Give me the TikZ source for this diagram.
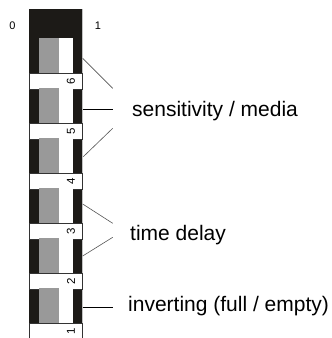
\documentclass[tikz,border=0pt]{standalone}
\usepackage{fontspec}
\setmainfont{Liberation Sans}
\definecolor{bodyblack}{HTML}{1C1A17}
\definecolor{slidegray}{HTML}{999999}
\definecolor{barline}{HTML}{333333}
\definecolor{leadgray}{HTML}{555555}
\begin{document}
\begin{tikzpicture}[x=1pt,y=-1pt,
  body/.style={fill=bodyblack},
  slidedark/.style={fill=slidegray},
  slidelight/.style={fill=white},
  barbox/.style={draw=barline,fill=white,line width=0.8pt,rectangle,
    minimum width=53pt,minimum height=16pt,inner sep=0pt},
  digit/.style={font=\fontsize{11.5}{11.5}\selectfont,rotate=90,inner sep=0pt},
  endlabel/.style={font=\fontsize{11}{11}\selectfont,inner sep=0pt},
  caption/.style={font=\fontsize{21}{23}\selectfont,anchor=base west,inner sep=0pt},
  slantlead/.style={draw=leadgray,line width=0.6pt},
  flatlead/.style={draw=black,line width=1pt}]
\useasboundingbox (0,0) rectangle (332,338);

% switch housing
\fill[body] (29,9) rectangle (82.5,345);
\draw[slidegray!60,line width=0.5pt] (82.5,9) -- (82.5,345);

% six slider windows and the numbered white bars
\foreach \i in {0,...,5}{
  \pgfmathsetmacro{\top}{38+50*\i}
  \pgfmathtruncatemacro{\num}{6-\i}
  \fill[slidedark] (39.3,\top) rectangle (59.3,\top+35);
  \fill[slidelight] (59.3,\top) rectangle (73.3,\top+35);
  \node[barbox] (bar\num) at (55.75,\top+43) {};
  \node[digit] (num\num) at (71,\top+43) {\num};
}

% position labels
\node[endlabel] (zero) at (12.5,25.5) {0};
\node[endlabel] (one) at (98,25.5) {1};

% captions
\node[caption] (sens) at (132,116) {sensitivity / media};
\node[caption] (delay) at (130,240) {time delay};
\node[caption] (inv) at (128,311) {inverting (full / empty)};

% lead end points
\coordinate (s1) at (82.7,58.3);
\coordinate (s1e) at (112.7,88.3);
\coordinate (s2) at (82.7,109.3);
\coordinate (s2e) at (112.7,109.3);
\coordinate (s3) at (83.3,156.7);
\coordinate (s3e) at (112.7,128.3);
\coordinate (d1) at (82.7,204);
\coordinate (d1e) at (112.7,223.3);
\coordinate (d2) at (82.7,256);
\coordinate (d2e) at (112.7,237.3);
\coordinate (i1) at (82.7,307.3);
\coordinate (i1e) at (112.7,307.3);

% leads
\draw[slantlead] (s1) -- (s1e);
\draw[flatlead] (s2) -- (s2e);
\draw[slantlead] (s3) -- (s3e);
\draw[slantlead] (d1) -- (d1e);
\draw[slantlead] (d2) -- (d2e);
\draw[flatlead] (i1) -- (i1e);
\end{tikzpicture}
\end{document}
